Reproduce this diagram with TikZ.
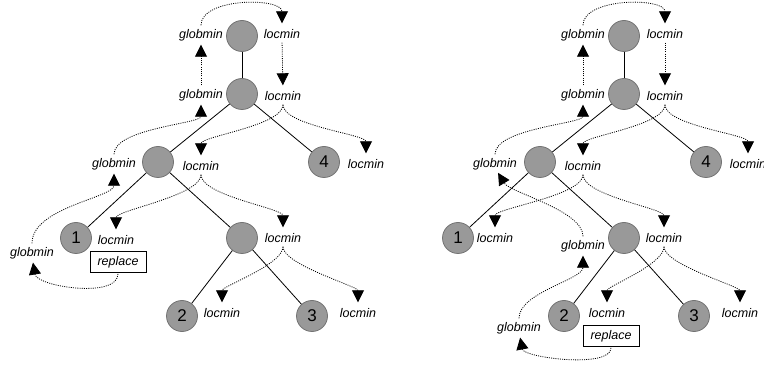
\documentclass[tikz,border=0pt]{standalone}
\usepackage{fontspec}
\setmainfont{Liberation Sans}
\usetikzlibrary{arrows.meta}
\tikzset{
  bigtip/.tip={Triangle[length=12pt,width=12pt]},
  flow/.style={line width=0.8pt,dash pattern=on 1pt off 1.2pt,arrows={-bigtip},shorten <=4pt,shorten >=6pt}
}
\begin{document}
\begin{tikzpicture}[x=1pt,y=-1pt,
  vtx/.style={circle,minimum size=31pt,inner sep=0pt,fill=black!40,draw=black!55,line width=0.8pt,font=\fontsize{17}{20}\selectfont},
  lab/.style={inner sep=0pt,text height=9pt,text depth=0pt,font=\fontsize{12.5}{15}\selectfont\itshape},
  repbox/.style={draw=black,line width=0.7pt,minimum width=56pt,minimum height=21pt,inner sep=0pt,font=\fontsize{12.5}{15}\selectfont\itshape},
  edge/.style={line width=0.8pt,black}
]
\useasboundingbox (0,0) rectangle (764,366);

% ---------------- left tree ----------------
\node[vtx] (lr) at (242,36) {};
\node[vtx] (la) at (242,94) {};
\node[vtx] (lb) at (158,162) {};
\node[vtx] (l4) at (324,162) {4};
\node[vtx] (l1) at (76,238) {1};
\node[vtx] (lc) at (242,238) {};
\node[vtx] (l2) at (182,316) {2};
\node[vtx] (l3) at (312,316) {3};
\draw[edge] (lr) -- (la);
\draw[edge] (la) -- (lb);
\draw[edge] (la) -- (l4);
\draw[edge] (lb) -- (l1);
\draw[edge] (lb) -- (lc);
\draw[edge] (lc) -- (l2);
\draw[edge] (lc) -- (l3);

\node[lab] (Lgr) at (201,34) {globmin};
\node[lab] (Llr) at (282,34) {locmin};
\node[lab] (Lga) at (201,94) {globmin};
\node[lab] (Lla) at (283,96) {locmin};
\node[lab] (Lgb) at (114,163) {globmin};
\node[lab] (Llb) at (201,166) {locmin};
\node[lab] (Ll4) at (366,164) {locmin};
\node[lab] (Ll1) at (116,240) {locmin};
\node[repbox] (Lrep) at (118,262) {replace};
\node[lab] (Lgx) at (32,252) {globmin};
\node[lab] (Llc) at (283,238) {locmin};
\node[lab] (Ll2) at (222,313) {locmin};
\node[lab] (Ll3) at (358,313) {locmin};

\draw[flow] (Lgr.north) .. controls +(0,-32) and +(0,-32) .. (Llr.north);
\draw[flow] (Lga.north) -- (Lgr.south);
\draw[flow] (Llr.south) -- (Lla.north);
\draw[flow] (Lla.south) .. controls +(0,25) and +(0,-25) .. (Llb.north);
\draw[flow] (Lla.south) .. controls +(0,25) and +(0,-25) .. (Ll4.north);
\draw[flow] (Lgb.north) .. controls +(0,-30) and +(0,25) .. (Lga.south);
\draw[flow] (Llb.south) .. controls +(0,25) and +(0,-25) .. (Ll1.north);
\draw[flow] (Llb.south) .. controls +(0,25) and +(0,-25) .. (Llc.north);
\draw[flow] (Lgx.north) .. controls +(0,-40) and +(0,30) .. (Lgb.south);
\draw[flow,shorten <=1pt] (Lrep.south) .. controls +(0,26) and +(5,30) .. (Lgx.south);
\draw[flow] (Llc.south) .. controls +(0,22) and +(0,-22) .. (Ll2.north);
\draw[flow] (Llc.south) .. controls +(0,22) and +(0,-22) .. (Ll3.north);

% ---------------- right tree ----------------
\node[vtx] (rr) at (624,36) {};
\node[vtx] (ra) at (624,94) {};
\node[vtx] (rb) at (540,162) {};
\node[vtx] (r4) at (706,162) {4};
\node[vtx] (r1) at (458,238) {1};
\node[vtx] (rc) at (624,238) {};
\node[vtx] (r2) at (564,316) {2};
\node[vtx] (r3) at (694,316) {3};
\draw[edge] (rr) -- (ra);
\draw[edge] (ra) -- (rb);
\draw[edge] (ra) -- (r4);
\draw[edge] (rb) -- (r1);
\draw[edge] (rb) -- (rc);
\draw[edge] (rc) -- (r2);
\draw[edge] (rc) -- (r3);

\node[lab] (Rgr) at (583,34) {globmin};
\node[lab] (Rlr) at (665,34) {locmin};
\node[lab] (Rga) at (583,94) {globmin};
\node[lab] (Rla) at (665,96) {locmin};
\node[lab] (Rgb) at (495,163) {globmin};
\node[lab] (Rlb) at (583,166) {locmin};
\node[lab] (Rl4) at (748,164) {locmin};
\node[lab] (Rl1) at (495,238) {locmin};
\node[lab] (Rgc) at (583,245) {globmin};
\node[lab] (Rlc) at (664,238) {locmin};
\node[lab] (Rl2) at (607,313) {locmin};
\node[repbox] (Rrep) at (611,336) {replace};
\node[lab] (Rgx) at (519,327) {globmin};
\node[lab] (Rl3) at (740,313) {locmin};

\draw[flow] (Rgr.north) .. controls +(0,-32) and +(0,-32) .. (Rlr.north);
\draw[flow] (Rga.north) -- (Rgr.south);
\draw[flow] (Rlr.south) -- (Rla.north);
\draw[flow] (Rla.south) .. controls +(0,25) and +(0,-25) .. (Rlb.north);
\draw[flow] (Rla.south) .. controls +(0,25) and +(0,-25) .. (Rl4.north);
\draw[flow] (Rgb.north) .. controls +(0,-30) and +(0,25) .. (Rga.south);
\draw[flow] (Rlb.south) .. controls +(0,25) and +(0,-25) .. (Rl1.north);
\draw[flow] (Rlb.south) .. controls +(0,25) and +(0,-25) .. (Rlc.north);
\draw[flow] (Rgc.north) .. controls +(0,-30) and +(15,25) .. (Rgb.south);
\draw[flow] (Rgx.north) .. controls +(0,-30) and +(0,30) .. (Rgc.south);
\draw[flow,shorten <=1pt] (Rrep.south) .. controls +(0,22) and +(5,26) .. (Rgx.south);
\draw[flow] (Rlc.south) .. controls +(0,22) and +(0,-22) .. (Rl2.north);
\draw[flow] (Rlc.south) .. controls +(0,22) and +(0,-22) .. (Rl3.north);
\end{tikzpicture}
\end{document}
